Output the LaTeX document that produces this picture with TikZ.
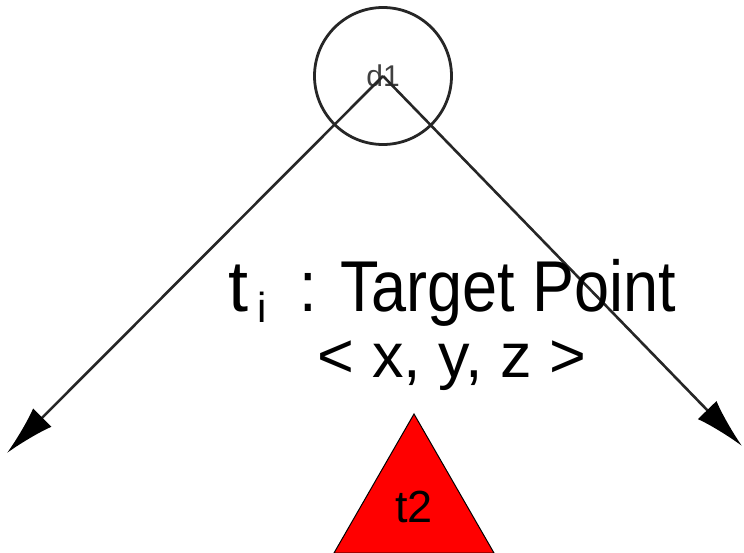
\documentclass[tikz,border=0pt]{standalone}
\usepackage{fontspec}
\setmainfont{Liberation Sans}
\usetikzlibrary{arrows.meta}

\begin{document}
\begin{tikzpicture}[x=1pt, y=-1pt,
    ray/.style={draw=black!85, line width=2.6pt, -{Latex[length=50pt, width=26pt, black]}},
    label/.style={inner sep=0pt, anchor=base west},
]
\useasboundingbox (0,0) rectangle (744,553);

    % source point
    \node[circle, draw=black!85, line width=2.8pt, minimum size=137pt, inner sep=0pt,
          text=black!75, font=\fontsize{30}{30}\selectfont] (d1) at (383,76) {d1};

    \coordinate (lefttip) at (7,453);
    \coordinate (righttip) at (742,446);
    \draw[ray] (d1.center) -- (lefttip);
    \draw[ray] (d1.center) -- (righttip);

    % caption
    \node[label, font=\fontsize{72}{72}\selectfont] (tname) at (228,312) {t};
    \node[label, font=\fontsize{42}{42}\selectfont] (tsub) at (257,322) {i};
    \node[label, font=\fontsize{72}{72}\selectfont] (ttext) at (299,312) {\scalebox{0.875}[1]{: Target Point}};
    \node[inner sep=0pt, anchor=base, font=\fontsize{63}{63}\selectfont] (tcoord) at (452,377) {< x, y, z >};

    % target
    \draw[fill=red, line width=1pt] (414,414) -- (494,553) -- (334,553) -- cycle;
    \node[inner sep=0pt, anchor=base, font=\fontsize{45}{45}\selectfont] (t2) at (414,522) {t2};

\end{tikzpicture}
\end{document}
